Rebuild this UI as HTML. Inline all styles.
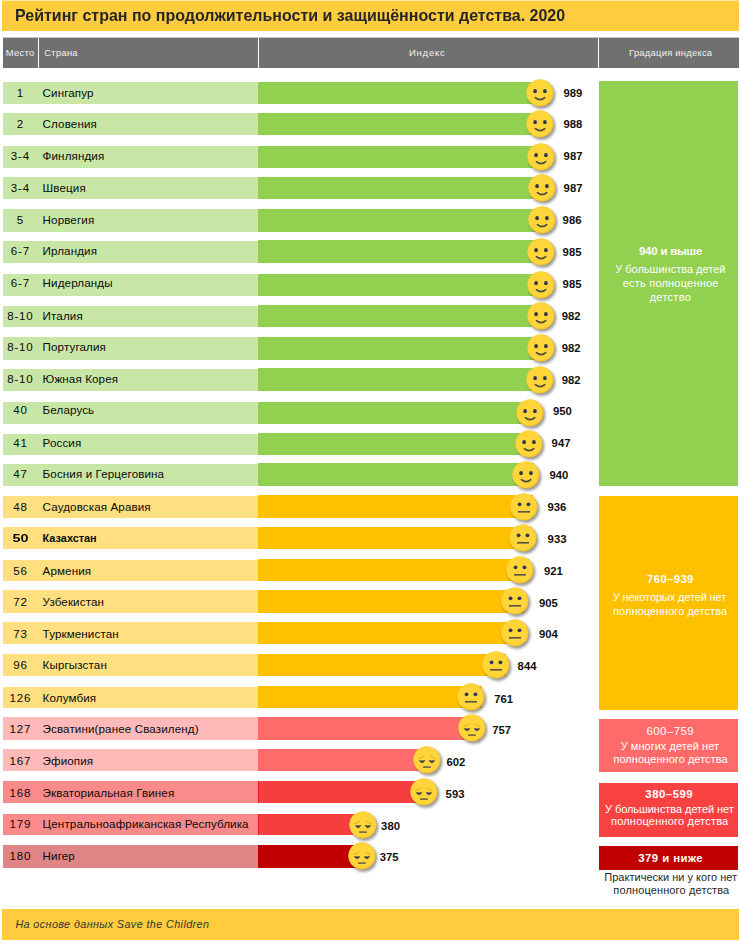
<!DOCTYPE html>
<html><head><meta charset="utf-8"><style>
*{margin:0;padding:0;box-sizing:border-box}
html,body{width:740px;height:944px;background:#fff;overflow:hidden}
body{position:relative;font-family:"Liberation Sans",sans-serif;color:#0a0a0a}
.abs{position:absolute}
#title{position:absolute;left:2px;top:1px;width:737px;height:30px;background:#ffcc3e}
#title span{position:absolute;left:13px;top:6px;font-size:16px;font-weight:bold;color:#262626;white-space:nowrap;letter-spacing:0px}
.hd{position:absolute;top:38px;height:30px;background:#707070;color:#f2f2f2;font-size:9.6px;line-height:30px;white-space:nowrap}
.band{position:absolute;left:3px;width:255px}
.bar{position:absolute;left:258px}
.rk{position:absolute;left:2.5px;width:35px;text-align:center;font-size:11.6px;letter-spacing:0.8px;text-indent:0.8px;line-height:21.7px;padding-top:0.3px;white-space:nowrap}
.nm{position:absolute;left:42.6px;font-size:11.6px;letter-spacing:0.12px;line-height:21.7px;padding-top:0.3px;white-space:nowrap}
.b{font-weight:bold}
.rk.b{font-size:11.3px;margin-top:1px;transform:scaleX(1.27);letter-spacing:0;text-indent:0}
.nm.b{font-size:10.9px;letter-spacing:0;margin-top:1px}
.val{position:absolute;font-size:11.3px;padding-top:1.2px;line-height:21.7px;font-weight:bold;white-space:nowrap;color:#111}
.sm{position:absolute;overflow:visible}
.gbx{position:absolute;left:599px;width:139px}
.gt{position:absolute;white-space:nowrap}
#foot{position:absolute;left:2px;top:909px;width:737px;height:31px;background:#ffcc3e}
#foot span{position:absolute;left:13px;top:9px;font-size:11.5px;font-style:italic;color:#333;white-space:nowrap}
</style></head><body>
<svg width="0" height="0" style="position:absolute"><defs><filter id="bl" x="-50%" y="-50%" width="200%" height="200%"><feGaussianBlur stdDeviation="1.4"/></filter></defs></svg>
<div class="abs" style="left:2px;top:0;width:737px;height:1px;background:#ffe7a3"></div><div id="title"></div>
<div class="abs" style="left:3px;top:37px;width:736px;height:1px;background:#c6c6c6"></div>
<div class="hd" style="left:3px;width:35px"></div>
<div class="hd" style="left:39px;width:219px"></div>
<div class="hd" style="left:259px;width:339px"></div>
<div class="hd" style="left:599px;width:140px"></div>
<div class="band" style="top:81.80px;height:21.90px;background:#c8e7a7"></div>
<div class="bar" style="top:81.50px;height:22.20px;width:290.5px;background:#92d050"></div>
<div class="rk" style="top:81.70px">1</div>
<div class="nm" style="top:81.70px">Сингапур</div>
<div class="val" style="top:81.70px;left:563.4px">989</div>
<svg class="sm" style="left:525.10px;top:77.70px" width="32" height="32" viewBox="-15 -15 32 32"><circle cx="1.7" cy="2.1" r="13.6" fill="#000" opacity="0.42" filter="url(#bl)"/><circle cx="0" cy="0" r="13.6" fill="#f3c22d"/><circle cx="-0.5" cy="-0.6" r="13.0" fill="#ffd53a"/><ellipse cx="-4.9" cy="-1.8" rx="1.85" ry="2.15" fill="#2f3a4b"/><ellipse cx="4.9" cy="-1.8" rx="1.85" ry="2.15" fill="#2f3a4b"/><path d="M-4.6 4.7Q0.1 8.7 4.8 4.7" fill="none" stroke="#4d4a3a" stroke-width="1.6" stroke-linecap="round"/></svg>
<div class="band" style="top:112.90px;height:22.00px;background:#c8e7a7"></div>
<div class="bar" style="top:112.60px;height:22.30px;width:290.2px;background:#92d050"></div>
<div class="rk" style="top:112.70px">2</div>
<div class="nm" style="top:112.70px">Словения</div>
<div class="val" style="top:112.70px;left:563.4px">988</div>
<svg class="sm" style="left:525.20px;top:108.85px" width="32" height="32" viewBox="-15 -15 32 32"><circle cx="1.7" cy="2.1" r="13.6" fill="#000" opacity="0.42" filter="url(#bl)"/><circle cx="0" cy="0" r="13.6" fill="#f3c22d"/><circle cx="-0.5" cy="-0.6" r="13.0" fill="#ffd53a"/><ellipse cx="-4.9" cy="-1.8" rx="1.85" ry="2.15" fill="#2f3a4b"/><ellipse cx="4.9" cy="-1.8" rx="1.85" ry="2.15" fill="#2f3a4b"/><path d="M-4.6 4.7Q0.1 8.7 4.8 4.7" fill="none" stroke="#4d4a3a" stroke-width="1.6" stroke-linecap="round"/></svg>
<div class="band" style="top:145.80px;height:21.90px;background:#c8e7a7"></div>
<div class="bar" style="top:145.50px;height:22.20px;width:289.9px;background:#92d050"></div>
<div class="rk" style="top:144.70px">3-4</div>
<div class="nm" style="top:144.70px">Финляндия</div>
<div class="val" style="top:144.70px;left:563.6px">987</div>
<svg class="sm" style="left:526.20px;top:141.70px" width="32" height="32" viewBox="-15 -15 32 32"><circle cx="1.7" cy="2.1" r="13.6" fill="#000" opacity="0.42" filter="url(#bl)"/><circle cx="0" cy="0" r="13.6" fill="#f3c22d"/><circle cx="-0.5" cy="-0.6" r="13.0" fill="#ffd53a"/><ellipse cx="-4.9" cy="-1.8" rx="1.85" ry="2.15" fill="#2f3a4b"/><ellipse cx="4.9" cy="-1.8" rx="1.85" ry="2.15" fill="#2f3a4b"/><path d="M-4.6 4.7Q0.1 8.7 4.8 4.7" fill="none" stroke="#4d4a3a" stroke-width="1.6" stroke-linecap="round"/></svg>
<div class="band" style="top:177.40px;height:21.70px;background:#c8e7a7"></div>
<div class="bar" style="top:177.10px;height:22.00px;width:289.9px;background:#92d050"></div>
<div class="rk" style="top:176.70px">3-4</div>
<div class="nm" style="top:176.70px">Швеция</div>
<div class="val" style="top:176.70px;left:563.6px">987</div>
<svg class="sm" style="left:527.00px;top:173.20px" width="32" height="32" viewBox="-15 -15 32 32"><circle cx="1.7" cy="2.1" r="13.6" fill="#000" opacity="0.42" filter="url(#bl)"/><circle cx="0" cy="0" r="13.6" fill="#f3c22d"/><circle cx="-0.5" cy="-0.6" r="13.0" fill="#ffd53a"/><ellipse cx="-4.9" cy="-1.8" rx="1.85" ry="2.15" fill="#2f3a4b"/><ellipse cx="4.9" cy="-1.8" rx="1.85" ry="2.15" fill="#2f3a4b"/><path d="M-4.6 4.7Q0.1 8.7 4.8 4.7" fill="none" stroke="#4d4a3a" stroke-width="1.6" stroke-linecap="round"/></svg>
<div class="band" style="top:209.40px;height:22.20px;background:#c8e7a7"></div>
<div class="bar" style="top:209.10px;height:22.50px;width:289.6px;background:#92d050"></div>
<div class="rk" style="top:208.70px">5</div>
<div class="nm" style="top:208.70px">Норвегия</div>
<div class="val" style="top:208.70px;left:562.6px">986</div>
<svg class="sm" style="left:527.00px;top:205.45px" width="32" height="32" viewBox="-15 -15 32 32"><circle cx="1.7" cy="2.1" r="13.6" fill="#000" opacity="0.42" filter="url(#bl)"/><circle cx="0" cy="0" r="13.6" fill="#f3c22d"/><circle cx="-0.5" cy="-0.6" r="13.0" fill="#ffd53a"/><ellipse cx="-4.9" cy="-1.8" rx="1.85" ry="2.15" fill="#2f3a4b"/><ellipse cx="4.9" cy="-1.8" rx="1.85" ry="2.15" fill="#2f3a4b"/><path d="M-4.6 4.7Q0.1 8.7 4.8 4.7" fill="none" stroke="#4d4a3a" stroke-width="1.6" stroke-linecap="round"/></svg>
<div class="band" style="top:240.60px;height:22.20px;background:#c8e7a7"></div>
<div class="bar" style="top:240.30px;height:22.50px;width:289.3px;background:#92d050"></div>
<div class="rk" style="top:239.70px">6-7</div>
<div class="nm" style="top:239.70px">Ирландия</div>
<div class="val" style="top:240.70px;left:562.6px">985</div>
<svg class="sm" style="left:526.00px;top:236.65px" width="32" height="32" viewBox="-15 -15 32 32"><circle cx="1.7" cy="2.1" r="13.6" fill="#000" opacity="0.42" filter="url(#bl)"/><circle cx="0" cy="0" r="13.6" fill="#f3c22d"/><circle cx="-0.5" cy="-0.6" r="13.0" fill="#ffd53a"/><ellipse cx="-4.9" cy="-1.8" rx="1.85" ry="2.15" fill="#2f3a4b"/><ellipse cx="4.9" cy="-1.8" rx="1.85" ry="2.15" fill="#2f3a4b"/><path d="M-4.6 4.7Q0.1 8.7 4.8 4.7" fill="none" stroke="#4d4a3a" stroke-width="1.6" stroke-linecap="round"/></svg>
<div class="band" style="top:274.20px;height:21.50px;background:#c8e7a7"></div>
<div class="bar" style="top:273.90px;height:21.80px;width:289.3px;background:#92d050"></div>
<div class="rk" style="top:271.70px">6-7</div>
<div class="nm" style="top:271.70px">Нидерланды</div>
<div class="val" style="top:272.70px;left:562.6px">985</div>
<svg class="sm" style="left:526.00px;top:269.90px" width="32" height="32" viewBox="-15 -15 32 32"><circle cx="1.7" cy="2.1" r="13.6" fill="#000" opacity="0.42" filter="url(#bl)"/><circle cx="0" cy="0" r="13.6" fill="#f3c22d"/><circle cx="-0.5" cy="-0.6" r="13.0" fill="#ffd53a"/><ellipse cx="-4.9" cy="-1.8" rx="1.85" ry="2.15" fill="#2f3a4b"/><ellipse cx="4.9" cy="-1.8" rx="1.85" ry="2.15" fill="#2f3a4b"/><path d="M-4.6 4.7Q0.1 8.7 4.8 4.7" fill="none" stroke="#4d4a3a" stroke-width="1.6" stroke-linecap="round"/></svg>
<div class="band" style="top:305.70px;height:21.40px;background:#c8e7a7"></div>
<div class="bar" style="top:305.40px;height:21.70px;width:288.4px;background:#92d050"></div>
<div class="rk" style="top:304.70px">8-10</div>
<div class="nm" style="top:304.70px">Италия</div>
<div class="val" style="top:304.70px;left:561.8px">982</div>
<svg class="sm" style="left:526.00px;top:301.35px" width="32" height="32" viewBox="-15 -15 32 32"><circle cx="1.7" cy="2.1" r="13.6" fill="#000" opacity="0.42" filter="url(#bl)"/><circle cx="0" cy="0" r="13.6" fill="#f3c22d"/><circle cx="-0.5" cy="-0.6" r="13.0" fill="#ffd53a"/><ellipse cx="-4.9" cy="-1.8" rx="1.85" ry="2.15" fill="#2f3a4b"/><ellipse cx="4.9" cy="-1.8" rx="1.85" ry="2.15" fill="#2f3a4b"/><path d="M-4.6 4.7Q0.1 8.7 4.8 4.7" fill="none" stroke="#4d4a3a" stroke-width="1.6" stroke-linecap="round"/></svg>
<div class="band" style="top:337.40px;height:22.20px;background:#c8e7a7"></div>
<div class="bar" style="top:337.10px;height:22.50px;width:288.4px;background:#92d050"></div>
<div class="rk" style="top:335.70px">8-10</div>
<div class="nm" style="top:335.70px">Португалия</div>
<div class="val" style="top:336.70px;left:561.7px">982</div>
<svg class="sm" style="left:526.10px;top:333.45px" width="32" height="32" viewBox="-15 -15 32 32"><circle cx="1.7" cy="2.1" r="13.6" fill="#000" opacity="0.42" filter="url(#bl)"/><circle cx="0" cy="0" r="13.6" fill="#f3c22d"/><circle cx="-0.5" cy="-0.6" r="13.0" fill="#ffd53a"/><ellipse cx="-4.9" cy="-1.8" rx="1.85" ry="2.15" fill="#2f3a4b"/><ellipse cx="4.9" cy="-1.8" rx="1.85" ry="2.15" fill="#2f3a4b"/><path d="M-4.6 4.7Q0.1 8.7 4.8 4.7" fill="none" stroke="#4d4a3a" stroke-width="1.6" stroke-linecap="round"/></svg>
<div class="band" style="top:368.60px;height:22.20px;background:#c8e7a7"></div>
<div class="bar" style="top:368.30px;height:22.50px;width:288.4px;background:#92d050"></div>
<div class="rk" style="top:367.70px">8-10</div>
<div class="nm" style="top:367.70px">Южная Корея</div>
<div class="val" style="top:368.70px;left:561.7px">982</div>
<svg class="sm" style="left:525.20px;top:364.65px" width="32" height="32" viewBox="-15 -15 32 32"><circle cx="1.7" cy="2.1" r="13.6" fill="#000" opacity="0.42" filter="url(#bl)"/><circle cx="0" cy="0" r="13.6" fill="#f3c22d"/><circle cx="-0.5" cy="-0.6" r="13.0" fill="#ffd53a"/><ellipse cx="-4.9" cy="-1.8" rx="1.85" ry="2.15" fill="#2f3a4b"/><ellipse cx="4.9" cy="-1.8" rx="1.85" ry="2.15" fill="#2f3a4b"/><path d="M-4.6 4.7Q0.1 8.7 4.8 4.7" fill="none" stroke="#4d4a3a" stroke-width="1.6" stroke-linecap="round"/></svg>
<div class="band" style="top:402.20px;height:21.50px;background:#c8e7a7"></div>
<div class="bar" style="top:401.90px;height:21.80px;width:279.0px;background:#92d050"></div>
<div class="rk" style="top:398.70px">40</div>
<div class="nm" style="top:398.70px">Беларусь</div>
<div class="val" style="top:399.70px;left:552.9px">950</div>
<svg class="sm" style="left:514.50px;top:397.90px" width="32" height="32" viewBox="-15 -15 32 32"><circle cx="1.7" cy="2.1" r="13.6" fill="#000" opacity="0.42" filter="url(#bl)"/><circle cx="0" cy="0" r="13.6" fill="#f3c22d"/><circle cx="-0.5" cy="-0.6" r="13.0" fill="#ffd53a"/><ellipse cx="-4.9" cy="-1.8" rx="1.85" ry="2.15" fill="#2f3a4b"/><ellipse cx="4.9" cy="-1.8" rx="1.85" ry="2.15" fill="#2f3a4b"/><path d="M-4.6 4.7Q0.1 8.7 4.8 4.7" fill="none" stroke="#4d4a3a" stroke-width="1.6" stroke-linecap="round"/></svg>
<div class="band" style="top:433.60px;height:21.20px;background:#c8e7a7"></div>
<div class="bar" style="top:433.30px;height:21.50px;width:278.1px;background:#92d050"></div>
<div class="rk" style="top:431.70px">41</div>
<div class="nm" style="top:431.70px">Россия</div>
<div class="val" style="top:431.70px;left:551.6px">947</div>
<svg class="sm" style="left:513.70px;top:429.15px" width="32" height="32" viewBox="-15 -15 32 32"><circle cx="1.7" cy="2.1" r="13.6" fill="#000" opacity="0.42" filter="url(#bl)"/><circle cx="0" cy="0" r="13.6" fill="#f3c22d"/><circle cx="-0.5" cy="-0.6" r="13.0" fill="#ffd53a"/><ellipse cx="-4.9" cy="-1.8" rx="1.85" ry="2.15" fill="#2f3a4b"/><ellipse cx="4.9" cy="-1.8" rx="1.85" ry="2.15" fill="#2f3a4b"/><path d="M-4.6 4.7Q0.1 8.7 4.8 4.7" fill="none" stroke="#4d4a3a" stroke-width="1.6" stroke-linecap="round"/></svg>
<div class="band" style="top:463.50px;height:22.10px;background:#c8e7a7"></div>
<div class="bar" style="top:463.20px;height:22.40px;width:276.1px;background:#92d050"></div>
<div class="rk" style="top:462.70px">47</div>
<div class="nm" style="top:462.70px">Босния и Герцеговина</div>
<div class="val" style="top:463.70px;left:549.5px">940</div>
<svg class="sm" style="left:511.00px;top:459.50px" width="32" height="32" viewBox="-15 -15 32 32"><circle cx="1.7" cy="2.1" r="13.6" fill="#000" opacity="0.42" filter="url(#bl)"/><circle cx="0" cy="0" r="13.6" fill="#f3c22d"/><circle cx="-0.5" cy="-0.6" r="13.0" fill="#ffd53a"/><ellipse cx="-4.9" cy="-1.8" rx="1.85" ry="2.15" fill="#2f3a4b"/><ellipse cx="4.9" cy="-1.8" rx="1.85" ry="2.15" fill="#2f3a4b"/><path d="M-4.6 4.7Q0.1 8.7 4.8 4.7" fill="none" stroke="#4d4a3a" stroke-width="1.6" stroke-linecap="round"/></svg>
<div class="band" style="top:495.70px;height:22.00px;background:#ffdf80"></div>
<div class="bar" style="top:495.40px;height:22.30px;width:274.9px;background:#ffc000"></div>
<div class="rk" style="top:495.70px">48</div>
<div class="nm" style="top:495.70px">Саудовская Аравия</div>
<div class="val" style="top:495.70px;left:547.5px">936</div>
<svg class="sm" style="left:509.00px;top:491.65px" width="32" height="32" viewBox="-15 -15 32 32"><circle cx="1.7" cy="2.1" r="13.6" fill="#000" opacity="0.42" filter="url(#bl)"/><circle cx="0" cy="0" r="13.6" fill="#f3c22d"/><circle cx="-0.5" cy="-0.6" r="13.0" fill="#ffd53a"/><circle cx="-4.45" cy="-2.7" r="1.9" fill="#2f3a4b"/><circle cx="4.45" cy="-2.7" r="1.9" fill="#2f3a4b"/><path d="M-6 4.8H6" stroke="#5a5845" stroke-width="1.7"/></svg>
<div class="band" style="top:527.20px;height:21.80px;background:#ffdf80"></div>
<div class="bar" style="top:526.90px;height:22.10px;width:274.0px;background:#ffc000"></div>
<div class="rk b" style="top:526.70px">50</div>
<div class="nm b" style="top:526.70px">Казахстан</div>
<div class="val" style="top:527.70px;left:547.6px">933</div>
<svg class="sm" style="left:508.00px;top:523.05px" width="32" height="32" viewBox="-15 -15 32 32"><circle cx="1.7" cy="2.1" r="13.6" fill="#000" opacity="0.42" filter="url(#bl)"/><circle cx="0" cy="0" r="13.6" fill="#f3c22d"/><circle cx="-0.5" cy="-0.6" r="13.0" fill="#ffd53a"/><circle cx="-4.45" cy="-2.7" r="1.9" fill="#2f3a4b"/><circle cx="4.45" cy="-2.7" r="1.9" fill="#2f3a4b"/><path d="M-6 4.8H6" stroke="#5a5845" stroke-width="1.7"/></svg>
<div class="band" style="top:559.60px;height:21.50px;background:#ffdf80"></div>
<div class="bar" style="top:559.30px;height:21.80px;width:270.5px;background:#ffc000"></div>
<div class="rk" style="top:559.70px">56</div>
<div class="nm" style="top:559.70px">Армения</div>
<div class="val" style="top:559.70px;left:544.0px">921</div>
<svg class="sm" style="left:505.10px;top:555.30px" width="32" height="32" viewBox="-15 -15 32 32"><circle cx="1.7" cy="2.1" r="13.6" fill="#000" opacity="0.42" filter="url(#bl)"/><circle cx="0" cy="0" r="13.6" fill="#f3c22d"/><circle cx="-0.5" cy="-0.6" r="13.0" fill="#ffd53a"/><circle cx="-4.45" cy="-2.7" r="1.9" fill="#2f3a4b"/><circle cx="4.45" cy="-2.7" r="1.9" fill="#2f3a4b"/><path d="M-6 4.8H6" stroke="#5a5845" stroke-width="1.7"/></svg>
<div class="band" style="top:590.40px;height:22.20px;background:#ffdf80"></div>
<div class="bar" style="top:590.10px;height:22.50px;width:265.8px;background:#ffc000"></div>
<div class="rk" style="top:590.70px">72</div>
<div class="nm" style="top:590.70px">Узбекистан</div>
<div class="val" style="top:591.70px;left:538.9px">905</div>
<svg class="sm" style="left:500.30px;top:586.45px" width="32" height="32" viewBox="-15 -15 32 32"><circle cx="1.7" cy="2.1" r="13.6" fill="#000" opacity="0.42" filter="url(#bl)"/><circle cx="0" cy="0" r="13.6" fill="#f3c22d"/><circle cx="-0.5" cy="-0.6" r="13.0" fill="#ffd53a"/><circle cx="-4.45" cy="-2.7" r="1.9" fill="#2f3a4b"/><circle cx="4.45" cy="-2.7" r="1.9" fill="#2f3a4b"/><path d="M-6 4.8H6" stroke="#5a5845" stroke-width="1.7"/></svg>
<div class="band" style="top:622.20px;height:21.50px;background:#ffdf80"></div>
<div class="bar" style="top:621.90px;height:21.80px;width:265.5px;background:#ffc000"></div>
<div class="rk" style="top:622.70px">73</div>
<div class="nm" style="top:622.70px">Туркменистан</div>
<div class="val" style="top:622.70px;left:538.9px">904</div>
<svg class="sm" style="left:500.20px;top:617.90px" width="32" height="32" viewBox="-15 -15 32 32"><circle cx="1.7" cy="2.1" r="13.6" fill="#000" opacity="0.42" filter="url(#bl)"/><circle cx="0" cy="0" r="13.6" fill="#f3c22d"/><circle cx="-0.5" cy="-0.6" r="13.0" fill="#ffd53a"/><circle cx="-4.45" cy="-2.7" r="1.9" fill="#2f3a4b"/><circle cx="4.45" cy="-2.7" r="1.9" fill="#2f3a4b"/><path d="M-6 4.8H6" stroke="#5a5845" stroke-width="1.7"/></svg>
<div class="band" style="top:654.00px;height:21.70px;background:#ffdf80"></div>
<div class="bar" style="top:653.70px;height:22.00px;width:247.9px;background:#ffc000"></div>
<div class="rk" style="top:653.70px">96</div>
<div class="nm" style="top:653.70px">Кыргызстан</div>
<div class="val" style="top:654.70px;left:517.6px">844</div>
<svg class="sm" style="left:481.20px;top:649.80px" width="32" height="32" viewBox="-15 -15 32 32"><circle cx="1.7" cy="2.1" r="13.6" fill="#000" opacity="0.42" filter="url(#bl)"/><circle cx="0" cy="0" r="13.6" fill="#f3c22d"/><circle cx="-0.5" cy="-0.6" r="13.0" fill="#ffd53a"/><circle cx="-4.45" cy="-2.7" r="1.9" fill="#2f3a4b"/><circle cx="4.45" cy="-2.7" r="1.9" fill="#2f3a4b"/><path d="M-6 4.8H6" stroke="#5a5845" stroke-width="1.7"/></svg>
<div class="band" style="top:686.50px;height:21.60px;background:#ffdf80"></div>
<div class="bar" style="top:686.20px;height:21.90px;width:223.5px;background:#ffc000"></div>
<div class="rk" style="top:686.70px">126</div>
<div class="nm" style="top:686.70px">Колумбия</div>
<div class="val" style="top:687.70px;left:494.3px">761</div>
<svg class="sm" style="left:456.40px;top:682.25px" width="32" height="32" viewBox="-15 -15 32 32"><circle cx="1.7" cy="2.1" r="13.6" fill="#000" opacity="0.42" filter="url(#bl)"/><circle cx="0" cy="0" r="13.6" fill="#f3c22d"/><circle cx="-0.5" cy="-0.6" r="13.0" fill="#ffd53a"/><circle cx="-4.45" cy="-2.7" r="1.9" fill="#2f3a4b"/><circle cx="4.45" cy="-2.7" r="1.9" fill="#2f3a4b"/><path d="M-6 4.8H6" stroke="#5a5845" stroke-width="1.7"/></svg>
<div class="band" style="top:717.20px;height:22.40px;background:#ffb9b9"></div>
<div class="bar" style="top:716.90px;height:22.70px;width:222.3px;background:#ff6b6b"></div>
<div class="rk" style="top:717.70px">127</div>
<div class="nm" style="top:717.70px">Эсватини(ранее Свазиленд)</div>
<div class="val" style="top:718.70px;left:492.2px">757</div>
<svg class="sm" style="left:457.00px;top:713.35px" width="32" height="32" viewBox="-15 -15 32 32"><circle cx="1.7" cy="2.1" r="13.6" fill="#000" opacity="0.42" filter="url(#bl)"/><circle cx="0" cy="0" r="13.6" fill="#f3c22d"/><circle cx="-0.5" cy="-0.6" r="13.0" fill="#ffd53a"/><path d="M-8.4 -1.3Q-5.8 -2.0 -3.6 -3.8M3.6 -3.8Q5.8 -2.0 8.4 -1.3" fill="none" stroke="#e6a52c" stroke-width="1" stroke-linecap="round"/><path d="M-7.7 0.5Q-4.9 1.0 -2.1 0.5Q-4.9 5.2 -7.7 0.5ZM2.1 0.5Q4.9 1.0 7.7 0.5Q4.9 5.2 2.1 0.5Z" fill="#343b4a" stroke="#343b4a" stroke-width="0.5" stroke-linejoin="round"/><path d="M-3.9 7.1H3.8" stroke="#6a6441" stroke-width="1.6"/></svg>
<div class="band" style="top:749.00px;height:21.80px;background:#ffb9b9"></div>
<div class="bar" style="top:748.70px;height:22.10px;width:176.8px;background:#ff6b6b"></div>
<div class="rk" style="top:749.70px">167</div>
<div class="nm" style="top:749.70px">Эфиопия</div>
<div class="val" style="top:750.70px;left:446.4px">602</div>
<svg class="sm" style="left:411.80px;top:744.85px" width="32" height="32" viewBox="-15 -15 32 32"><circle cx="1.7" cy="2.1" r="13.6" fill="#000" opacity="0.42" filter="url(#bl)"/><circle cx="0" cy="0" r="13.6" fill="#f3c22d"/><circle cx="-0.5" cy="-0.6" r="13.0" fill="#ffd53a"/><path d="M-8.4 -1.3Q-5.8 -2.0 -3.6 -3.8M3.6 -3.8Q5.8 -2.0 8.4 -1.3" fill="none" stroke="#e6a52c" stroke-width="1" stroke-linecap="round"/><path d="M-7.7 0.5Q-4.9 1.0 -2.1 0.5Q-4.9 5.2 -7.7 0.5ZM2.1 0.5Q4.9 1.0 7.7 0.5Q4.9 5.2 2.1 0.5Z" fill="#343b4a" stroke="#343b4a" stroke-width="0.5" stroke-linejoin="round"/><path d="M-3.9 7.1H3.8" stroke="#6a6441" stroke-width="1.6"/></svg>
<div class="band" style="top:780.90px;height:21.90px;background:#fb8b8b"></div>
<div class="bar" style="top:780.60px;height:22.20px;width:174.2px;background:#f73e3e;border-left:1.5px solid #f01818"></div>
<div class="rk" style="top:781.70px">168</div>
<div class="nm" style="top:781.70px">Экваториальная Гвинея</div>
<div class="val" style="top:782.70px;left:445.6px">593</div>
<svg class="sm" style="left:409.30px;top:776.80px" width="32" height="32" viewBox="-15 -15 32 32"><circle cx="1.7" cy="2.1" r="13.6" fill="#000" opacity="0.42" filter="url(#bl)"/><circle cx="0" cy="0" r="13.6" fill="#f3c22d"/><circle cx="-0.5" cy="-0.6" r="13.0" fill="#ffd53a"/><path d="M-8.4 -1.3Q-5.8 -2.0 -3.6 -3.8M3.6 -3.8Q5.8 -2.0 8.4 -1.3" fill="none" stroke="#e6a52c" stroke-width="1" stroke-linecap="round"/><path d="M-7.7 0.5Q-4.9 1.0 -2.1 0.5Q-4.9 5.2 -7.7 0.5ZM2.1 0.5Q4.9 1.0 7.7 0.5Q4.9 5.2 2.1 0.5Z" fill="#343b4a" stroke="#343b4a" stroke-width="0.5" stroke-linejoin="round"/><path d="M-3.9 7.1H3.8" stroke="#6a6441" stroke-width="1.6"/></svg>
<div class="band" style="top:813.90px;height:21.40px;background:#fb8b8b"></div>
<div class="bar" style="top:813.60px;height:21.70px;width:111.6px;background:#f73e3e;border-left:1.5px solid #f01818"></div>
<div class="rk" style="top:812.70px">179</div>
<div class="nm" style="top:812.70px">Центральноафриканская Республика</div>
<div class="val" style="top:814.70px;left:381.1px">380</div>
<svg class="sm" style="left:348.20px;top:809.55px" width="32" height="32" viewBox="-15 -15 32 32"><circle cx="1.7" cy="2.1" r="13.6" fill="#000" opacity="0.42" filter="url(#bl)"/><circle cx="0" cy="0" r="13.6" fill="#f3c22d"/><circle cx="-0.5" cy="-0.6" r="13.0" fill="#ffd53a"/><path d="M-8.4 -1.3Q-5.8 -2.0 -3.6 -3.8M3.6 -3.8Q5.8 -2.0 8.4 -1.3" fill="none" stroke="#e6a52c" stroke-width="1" stroke-linecap="round"/><path d="M-7.7 0.5Q-4.9 1.0 -2.1 0.5Q-4.9 5.2 -7.7 0.5ZM2.1 0.5Q4.9 1.0 7.7 0.5Q4.9 5.2 2.1 0.5Z" fill="#343b4a" stroke="#343b4a" stroke-width="0.5" stroke-linejoin="round"/><path d="M-3.9 7.1H3.8" stroke="#6a6441" stroke-width="1.6"/></svg>
<div class="band" style="top:845.20px;height:22.60px;background:#df8585"></div>
<div class="bar" style="top:844.90px;height:22.90px;width:110.1px;background:#c00000"></div>
<div class="rk" style="top:844.70px">180</div>
<div class="nm" style="top:844.70px">Нигер</div>
<div class="val" style="top:845.70px;left:379.7px">375</div>
<svg class="sm" style="left:347.20px;top:841.45px" width="32" height="32" viewBox="-15 -15 32 32"><circle cx="1.7" cy="2.1" r="13.6" fill="#000" opacity="0.42" filter="url(#bl)"/><circle cx="0" cy="0" r="13.6" fill="#f3c22d"/><circle cx="-0.5" cy="-0.6" r="13.0" fill="#ffd53a"/><path d="M-8.4 -1.3Q-5.8 -2.0 -3.6 -3.8M3.6 -3.8Q5.8 -2.0 8.4 -1.3" fill="none" stroke="#e6a52c" stroke-width="1" stroke-linecap="round"/><path d="M-7.7 0.5Q-4.9 1.0 -2.1 0.5Q-4.9 5.2 -7.7 0.5ZM2.1 0.5Q4.9 1.0 7.7 0.5Q4.9 5.2 2.1 0.5Z" fill="#343b4a" stroke="#343b4a" stroke-width="0.5" stroke-linejoin="round"/><path d="M-3.9 7.1H3.8" stroke="#6a6441" stroke-width="1.6"/></svg>
<div id="foot"></div>
<div class="gbx" style="top:81px;height:405px;background:#92d050"></div>
<div class="gbx" style="top:496.3px;height:214.09999999999997px;background:#ffc000"></div>
<div class="gbx" style="top:719px;height:52.799999999999955px;background:#ff6b6b"></div>
<div class="gbx" style="top:783.3px;height:53.30000000000007px;background:#f84242"></div>
<div class="gbx" style="top:846.1px;height:24.100000000000023px;background:#c00000"></div>
<div class="gt" style="left:5.80px;top:47.80px;font-size:9.4px;line-height:9.4px;font-weight:normal;font-style:normal;letter-spacing:0.3px;color:#f0f0f0">Место</div>
<div class="gt" style="left:44.30px;top:47.80px;font-size:9.4px;line-height:9.4px;font-weight:normal;font-style:normal;letter-spacing:0.28px;color:#f0f0f0">Страна</div>
<div class="gt" style="left:409.00px;top:47.60px;font-size:9.6px;line-height:9.6px;font-weight:normal;font-style:normal;letter-spacing:0.7px;color:#f0f0f0">Индекс</div>
<div class="gt" style="left:629.10px;top:47.80px;font-size:9.4px;line-height:9.4px;font-weight:normal;font-style:normal;letter-spacing:0.253px;color:#f0f0f0">Градация индекса</div>
<div class="gt" style="left:15.40px;top:919.00px;font-size:10.8px;line-height:10.8px;font-weight:normal;font-style:italic;letter-spacing:0.394px;color:#333333">На основе данных Save the Children</div>
<div class="gt" style="left:638.90px;top:245.70px;font-size:11.4px;line-height:11.4px;font-weight:bold;font-style:normal;letter-spacing:-0.167px;color:#fff">940 и выше</div>
<div class="gt" style="left:615.20px;top:263.70px;font-size:11px;line-height:11px;font-weight:normal;font-style:normal;letter-spacing:0.006px;color:#fff">У большинства детей</div>
<div class="gt" style="left:622.80px;top:278.20px;font-size:11px;line-height:11px;font-weight:normal;font-style:normal;letter-spacing:0.2px;color:#fff">есть полноценное</div>
<div class="gt" style="left:649.70px;top:292.40px;font-size:11px;line-height:11px;font-weight:normal;font-style:normal;letter-spacing:0.267px;color:#fff">детство</div>
<div class="gt" style="left:647.10px;top:574.20px;font-size:11.4px;line-height:11.4px;font-weight:bold;font-style:normal;letter-spacing:0.333px;color:#fff">760–939</div>
<div class="gt" style="left:612.80px;top:591.90px;font-size:11px;line-height:11px;font-weight:normal;font-style:normal;letter-spacing:-0.125px;color:#fff">У некоторых детей нет</div>
<div class="gt" style="left:613.10px;top:606.00px;font-size:11px;line-height:11px;font-weight:normal;font-style:normal;letter-spacing:0.026px;color:#fff">полноценного детства</div>
<div class="gt" style="left:646.50px;top:725.80px;font-size:11.4px;line-height:11.4px;font-weight:normal;font-style:normal;letter-spacing:0.467px;color:#fff">600–759</div>
<div class="gt" style="left:620.70px;top:741.00px;font-size:11px;line-height:11px;font-weight:normal;font-style:normal;letter-spacing:0.029px;color:#fff">У многих детей нет</div>
<div class="gt" style="left:613.40px;top:753.90px;font-size:11px;line-height:11px;font-weight:normal;font-style:normal;letter-spacing:0.042px;color:#fff">полноценного детства</div>
<div class="gt" style="left:645.30px;top:788.50px;font-size:11.4px;line-height:11.4px;font-weight:bold;font-style:normal;letter-spacing:0.5px;color:#fff">380–599</div>
<div class="gt" style="left:605.00px;top:803.50px;font-size:11px;line-height:11px;font-weight:normal;font-style:normal;letter-spacing:-0.059px;color:#fff">У большинства детей нет</div>
<div class="gt" style="left:611.00px;top:816.00px;font-size:11px;line-height:11px;font-weight:normal;font-style:normal;letter-spacing:0.2px;color:#fff">полноценного детства</div>
<div class="gt" style="left:638.20px;top:852.80px;font-size:11.4px;line-height:11.4px;font-weight:bold;font-style:normal;letter-spacing:0.444px;color:#fff">379 и ниже</div>
<div class="gt" style="left:604.30px;top:872.40px;font-size:11px;line-height:11px;font-weight:normal;font-style:normal;letter-spacing:0.021px;color:#262626">Практически ни у кого нет</div>
<div class="gt" style="left:613.30px;top:885.00px;font-size:11px;line-height:11px;font-weight:normal;font-style:normal;letter-spacing:0.132px;color:#262626">полноценного детства</div>
<div class="gt" style="left:15.04px;top:7.90px;font-size:16.6px;line-height:16.6px;font-weight:bold;color:#262626;transform:scaleX(0.9636);transform-origin:0 0">Рейтинг стран по продолжительности и защищённости детства. 2020</div>
</body></html>
